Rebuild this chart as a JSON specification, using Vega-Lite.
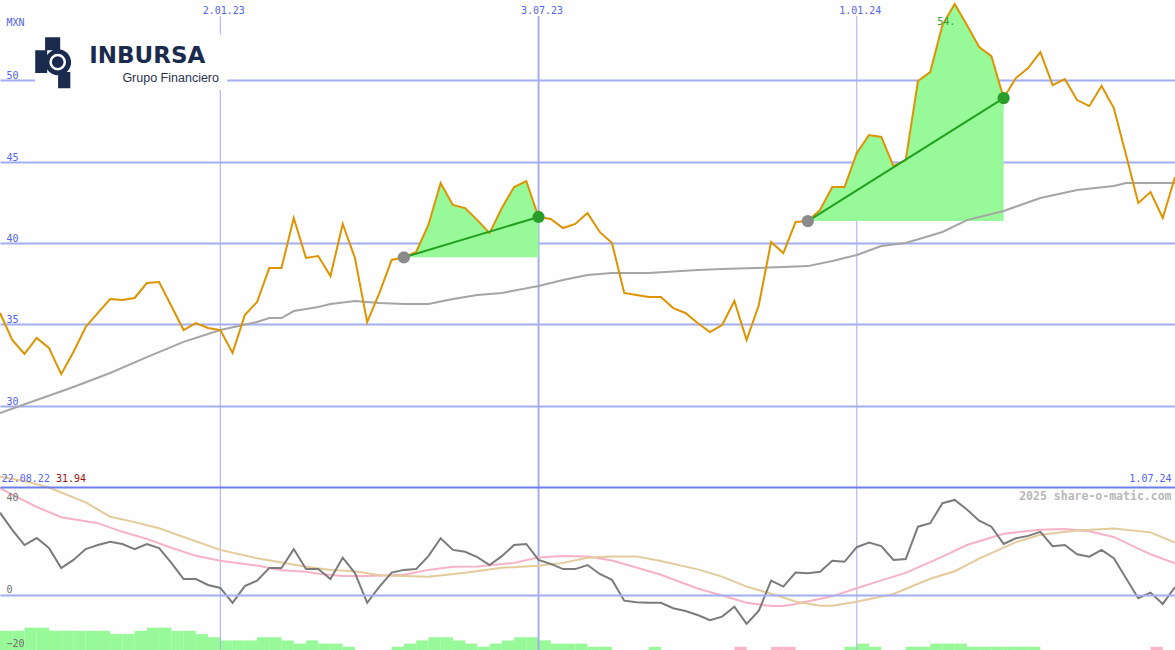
{
  "$schema": "https://vega.github.io/schema/vega-lite/v6.json",
  "width": 1175,
  "height": 650,
  "autosize": {"type": "none"},
  "padding": 0,
  "background": "#fdfefd",
  "config": {"view": {"stroke": null}},
  "datasets": {
    "price": [
      {"d":"2022-08-29","c":35.70},{"d":"2022-09-05","c":34.04},{"d":"2022-09-12","c":33.18},{"d":"2022-09-19","c":34.16},{"d":"2022-09-26","c":33.55},
      {"d":"2022-10-03","c":31.94},{"d":"2022-10-10","c":33.30},{"d":"2022-10-17","c":34.84},{"d":"2022-10-24","c":35.70},{"d":"2022-10-31","c":36.56},
      {"d":"2022-11-07","c":36.50},{"d":"2022-11-14","c":36.62},{"d":"2022-11-21","c":37.54},{"d":"2022-11-28","c":37.60},{"d":"2022-12-05","c":36.13},
      {"d":"2022-12-12","c":34.65},{"d":"2022-12-19","c":35.08},{"d":"2022-12-26","c":34.78},{"d":"2023-01-02","c":34.65},{"d":"2023-01-09","c":33.24},
      {"d":"2023-01-16","c":35.57},{"d":"2023-01-23","c":36.37},{"d":"2023-01-30","c":38.46},{"d":"2023-02-06","c":38.46},{"d":"2023-02-13","c":41.54},
      {"d":"2023-02-20","c":39.08},{"d":"2023-02-27","c":39.20},{"d":"2023-03-06","c":37.97},{"d":"2023-03-13","c":41.17},{"d":"2023-03-20","c":39.08},
      {"d":"2023-03-27","c":35.14},{"d":"2023-04-03","c":36.93},{"d":"2023-04-10","c":38.96},{"d":"2023-04-17","c":39.12},{"d":"2023-04-24","c":39.45},
      {"d":"2023-05-01","c":41.11},{"d":"2023-05-08","c":43.69},{"d":"2023-05-15","c":42.34},{"d":"2023-05-22","c":42.15},{"d":"2023-05-29","c":41.41},
      {"d":"2023-06-05","c":40.61},{"d":"2023-06-12","c":42.15},{"d":"2023-06-19","c":43.44},{"d":"2023-06-26","c":43.81},{"d":"2023-07-03","c":41.60},
      {"d":"2023-07-10","c":41.48},{"d":"2023-07-17","c":40.92},{"d":"2023-07-24","c":41.17},{"d":"2023-07-31","c":41.84},{"d":"2023-08-07","c":40.68},
      {"d":"2023-08-14","c":40.00},{"d":"2023-08-21","c":36.93},{"d":"2023-08-28","c":36.80},{"d":"2023-09-04","c":36.68},{"d":"2023-09-11","c":36.68},
      {"d":"2023-09-18","c":36.00},{"d":"2023-09-25","c":35.70},{"d":"2023-10-02","c":35.08},{"d":"2023-10-09","c":34.53},{"d":"2023-10-16","c":34.96},
      {"d":"2023-10-23","c":36.44},{"d":"2023-10-30","c":34.04},{"d":"2023-11-06","c":36.19},{"d":"2023-11-13","c":40.06},{"d":"2023-11-20","c":39.38},
      {"d":"2023-11-27","c":41.29},{"d":"2023-12-04","c":41.35},{"d":"2023-12-11","c":42.03},{"d":"2023-12-18","c":43.44},{"d":"2023-12-25","c":43.44},
      {"d":"2024-01-01","c":45.53},{"d":"2024-01-08","c":46.64},{"d":"2024-01-15","c":46.52},{"d":"2024-01-22","c":44.73},{"d":"2024-01-29","c":45.10},
      {"d":"2024-02-05","c":49.96},{"d":"2024-02-12","c":50.51},{"d":"2024-02-19","c":53.40},{"d":"2024-02-26","c":54.69},{"d":"2024-03-04","c":53.40},
      {"d":"2024-03-11","c":52.05},{"d":"2024-03-18","c":51.49},{"d":"2024-03-25","c":48.91},{"d":"2024-04-01","c":50.14},{"d":"2024-04-08","c":50.76},
      {"d":"2024-04-15","c":51.74},{"d":"2024-04-22","c":49.71},{"d":"2024-04-29","c":50.08},{"d":"2024-05-06","c":48.79},{"d":"2024-05-13","c":48.42},
      {"d":"2024-05-20","c":49.65},{"d":"2024-05-27","c":48.30},{"d":"2024-06-03","c":45.41},{"d":"2024-06-10","c":42.46},{"d":"2024-06-17","c":43.13},
      {"d":"2024-06-24","c":41.54},{"d":"2024-07-01","c":44.06}
    ],
    "ma": [
      {"d":"2022-08-29","c":29.55},{"d":"2022-09-19","c":30.35},{"d":"2022-10-10","c":31.15},{"d":"2022-10-31","c":32.01},{"d":"2022-11-21","c":32.99},
      {"d":"2022-12-12","c":33.92},{"d":"2023-01-02","c":34.65},{"d":"2023-01-23","c":35.14},{"d":"2023-01-30","c":35.39},{"d":"2023-02-06","c":35.39},
      {"d":"2023-02-13","c":35.82},{"d":"2023-02-27","c":36.07},{"d":"2023-03-06","c":36.25},{"d":"2023-03-20","c":36.44},{"d":"2023-03-27","c":36.38},
      {"d":"2023-04-03","c":36.31},{"d":"2023-04-17","c":36.25},{"d":"2023-05-01","c":36.25},{"d":"2023-05-15","c":36.56},{"d":"2023-05-29","c":36.80},
      {"d":"2023-06-12","c":36.93},{"d":"2023-07-03","c":37.36},{"d":"2023-07-17","c":37.73},{"d":"2023-07-31","c":38.03},{"d":"2023-08-14","c":38.16},
      {"d":"2023-09-04","c":38.16},{"d":"2023-10-02","c":38.34},{"d":"2023-10-16","c":38.40},{"d":"2023-11-20","c":38.52},{"d":"2023-12-04","c":38.58},
      {"d":"2023-12-18","c":38.89},{"d":"2024-01-01","c":39.26},{"d":"2024-01-15","c":39.82},{"d":"2024-01-29","c":40.00},{"d":"2024-02-19","c":40.68},
      {"d":"2024-03-04","c":41.41},{"d":"2024-03-25","c":41.97},{"d":"2024-04-15","c":42.77},{"d":"2024-05-06","c":43.26},{"d":"2024-05-27","c":43.50},
      {"d":"2024-06-03","c":43.69},{"d":"2024-07-01","c":43.69}
    ],
    "fill": [
      {"d":"2023-04-17","c":39.12,"b":39.12,"s":1},{"d":"2023-04-24","c":39.45,"b":39.12,"s":1},{"d":"2023-05-01","c":41.11,"b":39.12,"s":1},
      {"d":"2023-05-08","c":43.69,"b":39.12,"s":1},{"d":"2023-05-15","c":42.34,"b":39.12,"s":1},{"d":"2023-05-22","c":42.15,"b":39.12,"s":1},
      {"d":"2023-05-29","c":41.41,"b":39.12,"s":1},{"d":"2023-06-05","c":40.61,"b":39.12,"s":1},{"d":"2023-06-12","c":42.15,"b":39.12,"s":1},
      {"d":"2023-06-19","c":43.44,"b":39.12,"s":1},{"d":"2023-06-26","c":43.81,"b":39.12,"s":1},{"d":"2023-07-03","c":41.60,"b":39.12,"s":1},
      {"d":"2023-12-04","c":41.35,"b":41.35,"s":2},{"d":"2023-12-11","c":42.03,"b":41.35,"s":2},{"d":"2023-12-18","c":43.44,"b":41.35,"s":2},
      {"d":"2023-12-25","c":43.44,"b":41.35,"s":2},{"d":"2024-01-01","c":45.53,"b":41.35,"s":2},{"d":"2024-01-08","c":46.64,"b":41.35,"s":2},
      {"d":"2024-01-15","c":46.52,"b":41.35,"s":2},{"d":"2024-01-22","c":44.73,"b":41.35,"s":2},{"d":"2024-01-29","c":45.10,"b":41.35,"s":2},
      {"d":"2024-02-05","c":49.96,"b":41.35,"s":2},{"d":"2024-02-12","c":50.51,"b":41.35,"s":2},{"d":"2024-02-19","c":53.40,"b":41.35,"s":2},
      {"d":"2024-02-26","c":54.69,"b":41.35,"s":2},{"d":"2024-03-04","c":53.40,"b":41.35,"s":2},{"d":"2024-03-11","c":52.05,"b":41.35,"s":2},
      {"d":"2024-03-18","c":51.49,"b":41.35,"s":2},{"d":"2024-03-25","c":48.91,"b":41.35,"s":2}
    ],
    "trend": [
      {"d":"2023-04-17","d2":"2023-07-03","c":39.12,"c2":41.60},
      {"d":"2023-12-04","d2":"2024-03-25","c":41.35,"c2":48.91}
    ],
    "dots": [
      {"d":"2023-04-17","c":39.12,"k":"start"},{"d":"2023-07-03","c":41.60,"k":"end"},
      {"d":"2023-12-04","c":41.35,"k":"start"},{"d":"2024-03-25","c":48.91,"k":"end"}
    ],
    "vlines": [
      {"d":"2023-01-02","c":53.95,"c2":14.98},
      {"d":"2023-07-03","c":53.95,"c2":14.98},
      {"d":"2024-01-01","c":53.95,"c2":14.98}
    ],
    "osc": [
      {"d":"2022-08-29","v":30.5},{"d":"2022-09-05","v":24.1},{"d":"2022-09-12","v":18.5},{"d":"2022-09-19","v":21.1},{"d":"2022-09-26","v":17.4},
      {"d":"2022-10-03","v":10.0},{"d":"2022-10-10","v":13.0},{"d":"2022-10-17","v":17.0},{"d":"2022-10-24","v":18.5},{"d":"2022-10-31","v":19.7},
      {"d":"2022-11-07","v":18.9},{"d":"2022-11-14","v":17.0},{"d":"2022-11-21","v":18.9},{"d":"2022-11-28","v":17.4},{"d":"2022-12-05","v":11.9},
      {"d":"2022-12-12","v":5.9},{"d":"2022-12-19","v":5.9},{"d":"2022-12-26","v":3.7},{"d":"2023-01-02","v":2.6},{"d":"2023-01-09","v":-2.9},
      {"d":"2023-01-16","v":3.3},{"d":"2023-01-23","v":5.3},{"d":"2023-01-30","v":10.0},{"d":"2023-02-06","v":10.0},{"d":"2023-02-13","v":17.0},
      {"d":"2023-02-20","v":9.6},{"d":"2023-02-27","v":9.6},{"d":"2023-03-06","v":5.9},{"d":"2023-03-13","v":13.8},{"d":"2023-03-20","v":8.1},
      {"d":"2023-03-27","v":-2.9},{"d":"2023-04-03","v":3.1},{"d":"2023-04-10","v":8.3},{"d":"2023-04-17","v":9.3},{"d":"2023-04-24","v":9.6},
      {"d":"2023-05-01","v":14.4},{"d":"2023-05-08","v":21.0},{"d":"2023-05-15","v":16.7},{"d":"2023-05-22","v":16.0},{"d":"2023-05-29","v":14.0},
      {"d":"2023-06-05","v":11.1},{"d":"2023-06-12","v":14.4},{"d":"2023-06-19","v":18.5},{"d":"2023-06-26","v":18.9},{"d":"2023-07-03","v":13.0},
      {"d":"2023-07-10","v":11.5},{"d":"2023-07-17","v":9.6},{"d":"2023-07-24","v":9.6},{"d":"2023-07-31","v":11.1},{"d":"2023-08-07","v":7.8},
      {"d":"2023-08-14","v":5.6},{"d":"2023-08-21","v":-2.1},{"d":"2023-08-28","v":-2.7},{"d":"2023-09-04","v":-2.9},{"d":"2023-09-11","v":-2.9},
      {"d":"2023-09-18","v":-4.9},{"d":"2023-09-25","v":-5.9},{"d":"2023-10-02","v":-7.4},{"d":"2023-10-09","v":-9.3},{"d":"2023-10-16","v":-8.0},
      {"d":"2023-10-23","v":-4.3},{"d":"2023-10-30","v":-10.7},{"d":"2023-11-06","v":-5.8},{"d":"2023-11-13","v":5.3},{"d":"2023-11-20","v":3.1},
      {"d":"2023-11-27","v":8.3},{"d":"2023-12-04","v":8.1},{"d":"2023-12-11","v":8.6},{"d":"2023-12-18","v":12.7},{"d":"2023-12-25","v":12.3},
      {"d":"2024-01-01","v":17.7},{"d":"2024-01-08","v":19.4},{"d":"2024-01-15","v":18.1},{"d":"2024-01-22","v":13.0},{"d":"2024-01-29","v":13.3},
      {"d":"2024-02-05","v":25.3},{"d":"2024-02-12","v":26.6},{"d":"2024-02-19","v":34.0},{"d":"2024-02-26","v":35.2},{"d":"2024-03-04","v":31.7},
      {"d":"2024-03-11","v":27.5},{"d":"2024-03-18","v":25.3},{"d":"2024-03-25","v":18.9},{"d":"2024-04-01","v":21.0},{"d":"2024-04-08","v":21.9},
      {"d":"2024-04-15","v":23.4},{"d":"2024-04-22","v":18.1},{"d":"2024-04-29","v":18.5},{"d":"2024-05-06","v":15.1},{"d":"2024-05-13","v":14.2},
      {"d":"2024-05-20","v":16.7},{"d":"2024-05-27","v":13.6},{"d":"2024-06-03","v":6.2},{"d":"2024-06-10","v":-1.2},{"d":"2024-06-17","v":0.9},
      {"d":"2024-06-24","v":-3.3},{"d":"2024-07-01","v":2.9}
    ],
    "pink": [
      {"d":"2022-08-29","v":39.6},{"d":"2022-09-05","v":37.2},{"d":"2022-09-19","v":32.6},{"d":"2022-10-03","v":28.8},{"d":"2022-10-24","v":26.6},
      {"d":"2022-11-07","v":23.4},{"d":"2022-11-21","v":20.8},{"d":"2022-12-05","v":17.5},{"d":"2022-12-19","v":14.5},{"d":"2023-01-02","v":12.7},
      {"d":"2023-01-23","v":10.9},{"d":"2023-02-06","v":9.2},{"d":"2023-02-20","v":8.6},{"d":"2023-02-27","v":7.9},{"d":"2023-03-13","v":7.0},
      {"d":"2023-03-27","v":7.0},{"d":"2023-04-17","v":7.5},{"d":"2023-05-01","v":9.3},{"d":"2023-05-15","v":10.5},{"d":"2023-05-29","v":10.6},
      {"d":"2023-06-19","v":11.9},{"d":"2023-07-03","v":13.9},{"d":"2023-07-17","v":14.4},{"d":"2023-07-31","v":14.3},{"d":"2023-08-14","v":12.8},
      {"d":"2023-08-28","v":10.2},{"d":"2023-09-11","v":7.5},{"d":"2023-10-02","v":2.4},{"d":"2023-10-16","v":-0.2},{"d":"2023-10-30","v":-2.9},
      {"d":"2023-11-13","v":-4.1},{"d":"2023-11-20","v":-4.1},{"d":"2023-11-27","v":-3.3},{"d":"2023-12-18","v":-0.5},{"d":"2024-01-01","v":2.5},
      {"d":"2024-01-15","v":5.4},{"d":"2024-01-29","v":8.2},{"d":"2024-02-19","v":14.2},{"d":"2024-03-04","v":18.5},{"d":"2024-03-25","v":22.7},
      {"d":"2024-04-15","v":24.2},{"d":"2024-04-29","v":24.4},{"d":"2024-05-13","v":23.6},{"d":"2024-05-27","v":21.5},{"d":"2024-06-10","v":17.2},
      {"d":"2024-06-17","v":15.1},{"d":"2024-07-01","v":11.7}
    ],
    "tan": [
      {"d":"2022-08-29","v":43.8},{"d":"2022-09-12","v":42.2},{"d":"2022-09-26","v":39.8},{"d":"2022-10-17","v":34.3},{"d":"2022-10-31","v":29.0},
      {"d":"2022-11-14","v":27.0},{"d":"2022-11-28","v":24.7},{"d":"2022-12-12","v":21.5},{"d":"2023-01-02","v":16.7},{"d":"2023-01-23","v":13.6},
      {"d":"2023-02-06","v":12.0},{"d":"2023-02-20","v":10.5},{"d":"2023-03-06","v":9.3},{"d":"2023-03-20","v":8.8},{"d":"2023-04-03","v":7.3},
      {"d":"2023-04-17","v":7.0},{"d":"2023-05-01","v":6.8},{"d":"2023-05-22","v":8.2},{"d":"2023-06-12","v":10.1},{"d":"2023-07-03","v":10.8},
      {"d":"2023-07-17","v":11.9},{"d":"2023-07-31","v":13.8},{"d":"2023-08-14","v":14.3},{"d":"2023-08-28","v":14.3},{"d":"2023-09-11","v":12.6},
      {"d":"2023-10-02","v":9.5},{"d":"2023-10-16","v":6.8},{"d":"2023-10-30","v":3.1},{"d":"2023-11-13","v":0.5},{"d":"2023-11-20","v":-0.9},
      {"d":"2023-11-27","v":-2.4},{"d":"2023-12-11","v":-4.0},{"d":"2023-12-18","v":-4.0},{"d":"2024-01-01","v":-2.5},{"d":"2024-01-22","v":0.4},
      {"d":"2024-02-12","v":6.0},{"d":"2024-02-26","v":8.8},{"d":"2024-03-11","v":13.5},{"d":"2024-04-01","v":19.6},{"d":"2024-04-15","v":22.3},
      {"d":"2024-05-06","v":23.9},{"d":"2024-05-27","v":24.6},{"d":"2024-06-17","v":23.2},{"d":"2024-07-01","v":19.4}
    ],
    "hist": [
      {"d":"2022-08-29","h":6,"dir":"up"},{"d":"2022-09-05","h":6,"dir":"up"},{"d":"2022-09-12","h":7,"dir":"up"},{"d":"2022-09-19","h":7,"dir":"up"},
      {"d":"2022-09-26","h":6,"dir":"up"},{"d":"2022-10-03","h":6,"dir":"up"},{"d":"2022-10-10","h":6,"dir":"up"},{"d":"2022-10-17","h":6,"dir":"up"},
      {"d":"2022-10-24","h":6,"dir":"up"},{"d":"2022-10-31","h":5,"dir":"up"},{"d":"2022-11-07","h":5,"dir":"up"},{"d":"2022-11-14","h":6,"dir":"up"},
      {"d":"2022-11-21","h":7,"dir":"up"},{"d":"2022-11-28","h":7,"dir":"up"},{"d":"2022-12-05","h":6,"dir":"up"},{"d":"2022-12-12","h":6,"dir":"up"},
      {"d":"2022-12-19","h":5,"dir":"up"},{"d":"2022-12-26","h":4,"dir":"up"},{"d":"2023-01-02","h":3,"dir":"up"},{"d":"2023-01-09","h":3,"dir":"up"},
      {"d":"2023-01-16","h":3,"dir":"up"},{"d":"2023-01-23","h":4,"dir":"up"},{"d":"2023-01-30","h":4,"dir":"up"},{"d":"2023-02-06","h":3,"dir":"up"},
      {"d":"2023-02-13","h":2,"dir":"up"},{"d":"2023-02-20","h":3,"dir":"up"},{"d":"2023-02-27","h":2,"dir":"up"},{"d":"2023-03-06","h":2,"dir":"up"},
      {"d":"2023-03-13","h":1,"dir":"up"},{"d":"2023-04-10","h":1,"dir":"up"},{"d":"2023-04-17","h":2,"dir":"up"},{"d":"2023-04-24","h":3,"dir":"up"},
      {"d":"2023-05-01","h":4,"dir":"up"},{"d":"2023-05-08","h":4,"dir":"up"},{"d":"2023-05-15","h":3,"dir":"up"},{"d":"2023-05-22","h":2,"dir":"up"},
      {"d":"2023-05-29","h":1,"dir":"up"},{"d":"2023-06-05","h":2,"dir":"up"},{"d":"2023-06-12","h":3,"dir":"up"},{"d":"2023-06-19","h":4,"dir":"up"},
      {"d":"2023-06-26","h":4,"dir":"up"},{"d":"2023-07-03","h":3,"dir":"up"},{"d":"2023-07-10","h":2,"dir":"up"},{"d":"2023-07-17","h":2,"dir":"up"},
      {"d":"2023-07-24","h":2,"dir":"up"},{"d":"2023-07-31","h":1,"dir":"up"},{"d":"2023-08-07","h":1,"dir":"up"},{"d":"2023-09-04","h":1,"dir":"up"},
      {"d":"2023-10-23","h":1,"dir":"down"},{"d":"2023-11-13","h":1,"dir":"down"},{"d":"2023-11-20","h":1,"dir":"down"},
      {"d":"2023-12-25","h":1,"dir":"up"},{"d":"2024-01-01","h":2,"dir":"up"},{"d":"2024-01-08","h":1,"dir":"up"},{"d":"2024-01-29","h":1,"dir":"up"},
      {"d":"2024-02-05","h":1,"dir":"up"},{"d":"2024-02-12","h":2,"dir":"up"},{"d":"2024-02-19","h":2,"dir":"up"},{"d":"2024-02-26","h":2,"dir":"up"},
      {"d":"2024-03-04","h":1,"dir":"up"},{"d":"2024-03-11","h":1,"dir":"up"},{"d":"2024-03-18","h":1,"dir":"up"},{"d":"2024-03-25","h":1,"dir":"up"},
      {"d":"2024-04-01","h":1,"dir":"up"},{"d":"2024-04-08","h":1,"dir":"up"},{"d":"2024-06-17","h":1,"dir":"down"}
    ]
  },
  "encoding": {
    "x": {
      "field": "d",
      "type": "temporal",
      "scale": {"type": "utc", "nice": false, "padding": 0, "domain": [{"year": 2022, "month": 8, "date": 29, "utc": true}, {"year": 2024, "month": 7, "date": 1, "utc": true}]},
      "axis": {
        "orient": "top",
        "values": [{"year": 2023, "month": 1, "date": 2, "utc": true}, {"year": 2023, "month": 7, "date": 3, "utc": true}, {"year": 2024, "month": 1, "date": 1, "utc": true}],
        "format": "%-d.%m.%y",
        "grid": false, "domain": false, "ticks": false, "tickSize": 0,
        "labelPadding": -13, "labelBaseline": "alphabetic", "labelOffset": 3,
        "labelColor": "#5563ee", "labelFont": "DejaVu Sans Mono", "labelFontSize": 10,
        "labelFlush": false, "labelOverlap": false, "title": null
      }
    }
  },
  "layer": [
    {
      "data": {"name": "hist"},
      "mark": {"type": "bar", "width": 12.24, "xOffset": 6.12, "opacity": 1},
      "encoding": {
        "y": {"field": "h", "type": "quantitative", "scale": {"domain": [0, 203.8], "nice": false, "zero": true}, "axis": null},
        "color": {"field": "dir", "type": "nominal", "scale": {"domain": ["up", "down"], "range": ["#97f997", "#f9b4c8"]}, "legend": null}
      }
    },
    {
      "encoding": {
        "y": {
          "field": "c", "type": "quantitative",
          "scale": {"domain": [14.98, 54.94], "nice": false, "zero": false},
          "axis": {
            "orient": "left", "values": [30, 35, 40, 45, 50],
            "grid": true, "gridColor": "#a3adf2", "gridWidth": 2,
            "domain": false, "ticks": false, "tickSize": 0,
            "labelAlign": "left", "labelBaseline": "alphabetic", "labelPadding": -6, "labelOffset": -1.5,
            "labelColor": "#5563ee", "labelFont": "DejaVu Sans Mono", "labelFontSize": 10,
            "labelFlush": false, "labelOverlap": false,
            "title": "MXN", "titleAngle": 0, "titleX": 6, "titleY": 25, "titleAlign": "left", "titleBaseline": "alphabetic",
            "titleFont": "DejaVu Sans Mono", "titleFontSize": 10, "titleFontWeight": "normal", "titleColor": "#5563ee"
          }
        }
      },
      "layer": [
        {
          "data": {"name": "vlines"},
          "mark": {"type": "rule", "color": "#a6aef0"},
          "encoding": {
            "y2": {"field": "c2"},
            "strokeWidth": {"condition": {"test": "utcmonth(datum.d) == 6", "value": 2}, "value": 1}
          }
        },
        {
          "data": {"name": "fill"},
          "mark": {"type": "area", "color": "#97f997", "opacity": 1, "clip": true},
          "encoding": {"y2": {"field": "b"}, "detail": {"field": "s", "type": "nominal"}}
        },
        {
          "data": {"name": "ma"},
          "mark": {"type": "line", "color": "#a5a5a5", "strokeWidth": 2, "clip": true},
          "encoding": {}
        },
        {
          "data": {"name": "price"},
          "mark": {"type": "line", "color": "#dd9400", "strokeWidth": 2, "clip": true},
          "encoding": {}
        },
        {
          "data": {"name": "trend"},
          "mark": {"type": "rule", "color": "#22a022", "strokeWidth": 2},
          "encoding": {"x2": {"field": "d2"}, "y2": {"field": "c2"}}
        },
        {
          "data": {"name": "dots"},
          "mark": {"type": "point", "filled": true, "size": 150, "opacity": 1},
          "encoding": {"color": {"field": "k", "type": "nominal", "scale": {"domain": ["start", "end"], "range": ["#8a8a8a", "#2a9d2a"]}, "legend": null}}
        },
        {
          "data": {"values": [{"d": "2024-02-16", "c": 53.4}]},
          "mark": {"type": "text", "text": "54.", "font": "DejaVu Sans Mono", "fontSize": 10, "color": "#34a034", "align": "left", "baseline": "alphabetic"},
          "encoding": {}
        },
        {
          "data": {"values": [{"d": "2022-09-18", "d2": "2023-01-06", "c": 52.8, "c2": 49.4}]},
          "mark": {"type": "rect", "color": "#ffffff", "opacity": 1},
          "encoding": {"x2": {"field": "d2"}, "y2": {"field": "c2"}}
        },
        {
          "data": {"values": [{"d": "2022-09-29", "c": 51.12}]},
          "mark": {"type": "point", "filled": true, "opacity": 1, "color": "#1b2b4d", "size": 2704,
            "shape": "M-0.35,-0.96 L0.23,-0.96 L0.23,-0.46 L-0.35,-0.46 Z M-0.73,-0.46 L-0.27,-0.46 L-0.27,0.42 L-0.73,0.42 Z M0.15,0.38 L0.62,0.38 L0.62,1 L0.15,1 Z M0.65,0 A0.5,0.5 0 1,1 -0.35,0 A0.5,0.5 0 1,1 0.65,0 Z"},
          "encoding": {}
        },
        {
          "data": {"values": [{"d": "2022-10-01", "c": 51.12}]},
          "mark": {"type": "point", "shape": "circle", "filled": false, "opacity": 1, "stroke": "#ffffff", "strokeWidth": 2.5, "size": 200},
          "encoding": {}
        },
        {
          "data": {"values": [{"d": "2022-10-19", "c": 51.06}]},
          "mark": {"type": "text", "text": "INBURSA", "font": "DejaVu Sans", "fontWeight": "bold", "fontSize": 23, "color": "#1b2b4d", "align": "left", "baseline": "alphabetic"},
          "encoding": {}
        },
        {
          "data": {"values": [{"d": "2022-11-07", "c": 49.92}]},
          "mark": {"type": "text", "text": "Grupo Financiero", "font": "Liberation Sans", "fontSize": 12.5, "color": "#2a3350", "align": "left", "baseline": "alphabetic"},
          "encoding": {}
        }
      ]
    },
    {
      "encoding": {
        "y": {
          "field": "v", "type": "quantitative",
          "scale": {"domain": [-20.37, 220.37], "nice": false, "zero": false},
          "axis": {
            "orient": "right", "values": [-20, 0, 40], "zindex": 1,
            "grid": true,
            "gridColor": {"condition": {"test": "datum.value == 40", "value": "#6e7ef0"}, "value": "#a3adf2"},
            "gridOpacity": {"condition": {"test": "datum.value == -20", "value": 0}, "value": 1},
            "gridWidth": 2,
            "domain": false, "ticks": false, "tickSize": 0,
            "labelAlign": "left", "labelBaseline": "alphabetic", "labelPadding": -1169,
            "labelOffset": {"condition": {"test": "datum.value == 40", "value": 13}, "value": -3},
            "labelColor": "#707070", "labelFont": "DejaVu Sans Mono", "labelFontSize": 10,
            "labelFlush": false, "labelOverlap": false, "title": null
          }
        }
      },
      "layer": [
        {"data": {"name": "pink"}, "mark": {"type": "line", "color": "#f7b2c6", "strokeWidth": 2, "clip": true}, "encoding": {}},
        {"data": {"name": "tan"}, "mark": {"type": "line", "color": "#e3cb9c", "strokeWidth": 2, "clip": true}, "encoding": {}},
        {"data": {"name": "osc"}, "mark": {"type": "line", "color": "#7b7b7b", "strokeWidth": 2, "clip": true}, "encoding": {}},
        {
          "data": {"values": [{"d": "2022-08-30", "v": 41.96}]},
          "mark": {"type": "text", "text": "22.08.22", "font": "DejaVu Sans Mono", "fontSize": 10, "color": "#5563ee", "align": "left", "baseline": "alphabetic"},
          "encoding": {}
        },
        {
          "data": {"values": [{"d": "2022-09-30", "v": 41.96}]},
          "mark": {"type": "text", "text": "31.94", "font": "DejaVu Sans Mono", "fontSize": 10, "color": "#a01010", "align": "left", "baseline": "alphabetic"},
          "encoding": {}
        },
        {
          "data": {"values": [{"d": "2024-06-29", "v": 41.85}]},
          "mark": {"type": "text", "text": "1.07.24", "font": "DejaVu Sans Mono", "fontSize": 10, "color": "#5563ee", "align": "right", "baseline": "alphabetic"},
          "encoding": {}
        },
        {
          "data": {"values": [{"d": "2024-06-29", "v": 35.19}]},
          "mark": {"type": "text", "text": "2025 share-o-matic.com", "font": "DejaVu Sans Mono", "fontSize": 11.5, "fontWeight": "bold", "color": "#b8b8b8", "align": "right", "baseline": "alphabetic"},
          "encoding": {}
        }
      ]
    }
  ],
  "resolve": {"scale": {"y": "independent", "color": "independent"}, "axis": {"y": "independent"}}
}
